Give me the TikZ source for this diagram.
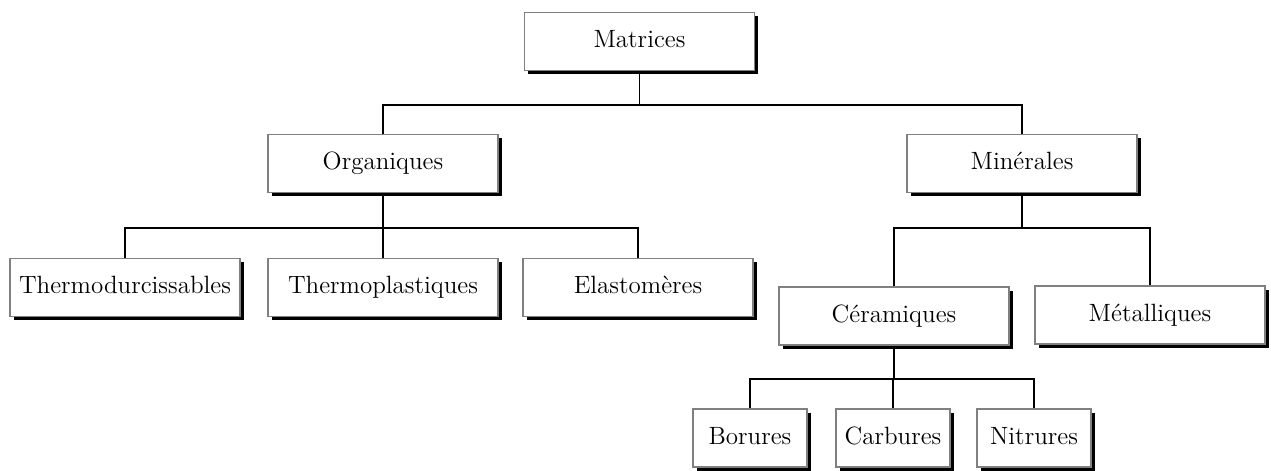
\documentclass[tikz,border=0pt]{standalone}
\usepackage{tikz}
\usetikzlibrary{shadows}
\definecolor{mtgray}{RGB}{128,128,128}

\begin{document}
\begin{tikzpicture}[x=.5pt,y=-.5pt,font=\fontsize{12.5}{15}\selectfont,
    mbox/.style={draw=mtgray,line width=.8pt,fill=white,inner sep=2pt,
      minimum width=115pt,minimum height=29pt,text height=9pt,text depth=3pt,
      drop shadow={opacity=1,fill=black,shadow xshift=1.8pt,shadow yshift=-1.8pt}},
    sbox/.style={mbox,minimum width=57pt},
    link/.style={line width=.9pt}]
  \useasboundingbox (0,0) rectangle (1271,471);
  \node[mbox] (mat) at (639.5,41.5) {Matrices};
  \node[mbox] (org) at (383,163.5) {Organiques};
  \node[mbox] (min) at (1022,163.5) {Minérales};
  \node[mbox] (thd) at (125,287.5) {Thermodurcissables};
  \node[mbox] (thp) at (383,287.5) {Thermoplastiques};
  \node[mbox] (ela) at (638,287.5) {Elastomères};
  \node[mbox] (cer) at (894,316) {Céramiques};
  \node[mbox] (met) at (1150,315) {Métalliques};
  \node[sbox] (bor) at (750,438) {Borures};
  \node[sbox] (car) at (893,438) {Carbures};
  \node[sbox] (nit) at (1034,438) {Nitrures};
  % junctions
  \coordinate (j1) at (639.5,105);
  \coordinate (j2) at (383,228);
  \coordinate (j3) at (1022,228);
  \coordinate (j4) at (894,379);
  \draw[link] (mat.south) -- (j1) -| (org.north);
  \draw[link] (j1) -| (min.north);
  \draw[link] (org.south) -- (j2) -| (thd.north);
  \draw[link] (j2) -| (ela.north);
  \draw[link] (j2) -- (thp.north);
  \draw[link] (min.south) -- (j3) -| (cer.north);
  \draw[link] (j3) -| (met.north);
  \draw[link] (cer.south) -- (j4) -| (bor.north);
  \draw[link] (j4) -| (nit.north);
  \draw[link] (j4) -| (car.north);
\end{tikzpicture}
\end{document}
